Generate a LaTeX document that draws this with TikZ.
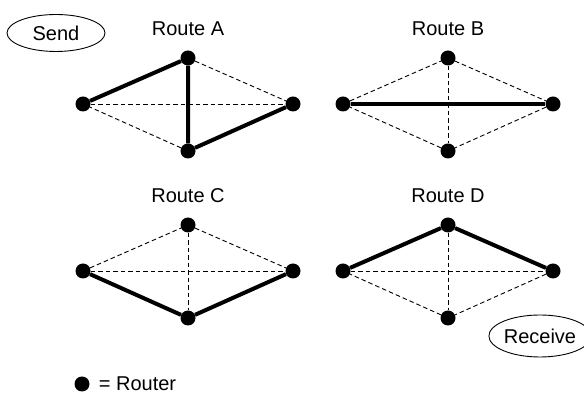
\documentclass[tikz,border=0pt]{standalone}
\usepackage{fontspec}
\setmainfont{Liberation Sans}
\usepackage{tikz}
\usetikzlibrary{shapes.geometric, positioning}
\tikzset{
  router/.style={circle, fill=black, inner sep=0pt, minimum size=15pt},
  link/.style={dashed, dash pattern=on 4.5pt off 3pt, line width=0.9pt, color=black},
  route/.style={line width=4pt, color=black},
  routetitle/.style={font=\fontsize{20}{23}\selectfont, inner sep=0pt},
  endpoint/.style={ellipse, draw, line width=0.9pt, inner sep=0pt,
    font=\fontsize{20}{23}\selectfont}
}

\begin{document}
\begin{tikzpicture}[x=1pt, y=1pt]
  \useasboundingbox (0,0) rectangle (584,396);
  % four router diamonds with all possible links
  \foreach \n/\x/\y/\t in {a/188/292/A, b/448/292/B, c/188/125/C, d/448/125/D}{
    \node[router] (\n-l) at (\x-105,\y) {};
    \node[router] (\n-t) at (\x,\y+46) {};
    \node[router] (\n-r) at (\x+105,\y) {};
    \node[router] (\n-b) at (\x,\y-47) {};
    \draw[link] (\n-l) -- (\n-t) -- (\n-r) -- (\n-b) -- (\n-l);
    \draw[link] (\n-l) -- (\n-r);
    \draw[link] (\n-t) -- (\n-b);
    \node[routetitle] (\n-title) at (\x,\y+75) {Route \t};
  }
  % chosen routes
  \draw[route] (a-l) -- (a-t) -- (a-b) -- (a-r);
  \draw[route] (b-l) -- (b-r);
  \draw[route] (c-l) -- (c-b) -- (c-r);
  \draw[route] (d-l) -- (d-t) -- (d-r);
  % sender and receiver
  \node[endpoint, minimum width=98pt, minimum height=37pt] (send) at (56,363) {Send};
  \node[endpoint, minimum width=92pt, minimum height=42pt] (receive) at (540,60) {Receive};
  % legend
  \node[router] (key) at (82,12) {};
  \node[routetitle, right=9pt of key] (keytext) {= Router};
\end{tikzpicture}
\end{document}
